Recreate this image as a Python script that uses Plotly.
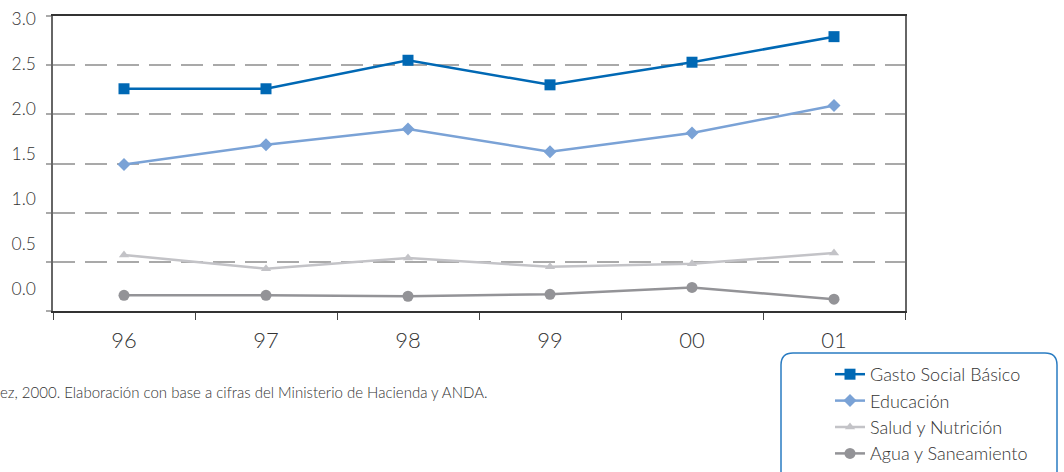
import plotly.graph_objects as go

# Years (two-digit labels) and spending series, % of GDP
years = ["96", "97", "98", "99", "00", "01"]
gasto_social = [2.26, 2.26, 2.55, 2.30, 2.53, 2.79]
educacion = [1.49, 1.69, 1.85, 1.62, 1.81, 2.09]
salud_nutricion = [0.57, 0.43, 0.54, 0.45, 0.48, 0.59]
agua_saneamiento = [0.16, 0.16, 0.15, 0.17, 0.24, 0.12]

y_ticks = [0.0, 0.5, 1.0, 1.5, 2.0, 2.5, 3.0]
y_tick_text = ["0.0", "0.5", "1.0", "1.5", "2.0", "2.5", "3.0"]

series = [
    ("Gasto Social Básico", gasto_social, "#0068b4", "square", 11),
    ("Educación", educacion, "#7aa2d6", "diamond", 10),
    ("Salud y Nutrición", salud_nutricion, "#c3c3c7", "triangle-up", 9),
    ("Agua y Saneamiento", agua_saneamiento, "#939397", "circle", 11),
]

FONT = "Lato"
TEXT_COLOR = "#333333"
W, H = 1064, 472

fig = go.Figure()
for name, values, color, symbol, size in series:
    fig.add_trace(go.Scatter(
        x=years, y=values, name=name, mode="lines+markers",
        line=dict(color=color, width=2.5),
        marker=dict(symbol=symbol, size=size, color=color),
    ))

fig.update_layout(
    width=W, height=H,
    margin=dict(l=53, r=159, t=16, b=161, autoexpand=False),
    paper_bgcolor="white", plot_bgcolor="white",
    font=dict(family=FONT, color=TEXT_COLOR, weight=300),
    showlegend=True,
    legend=dict(
        xref="container", yref="container",
        x=830 / W, xanchor="left",
        y=1 - 356 / H, yanchor="top",
        bgcolor="rgba(0,0,0,0)", borderwidth=0,
        font=dict(size=18, family=FONT, color=TEXT_COLOR, weight=300),
        tracegroupgap=0,
    ),
    xaxis=dict(
        type="category", range=[-0.5, 5.5], automargin=False,
        tickson="boundaries", ticks="outside", ticklen=7, tickcolor="#444",
        tickwidth=1.2,
        showgrid=False, showline=True, linecolor="#333", linewidth=1.5,
        mirror=True, tickfont=dict(size=22, color=TEXT_COLOR),
        ticklabelstandoff=9,
    ),
    yaxis=dict(
        range=[0, 3], tickvals=y_ticks, showticklabels=False, automargin=False,
        ticks="outside", ticklen=5, tickcolor="#aaaaaa", tickwidth=1.5,
        showgrid=True, gridcolor="#a9a9a9", gridwidth=1.5, griddash="22px,10px",
        showline=True, linecolor="#666", linewidth=1.5, mirror=True,
        zeroline=False,
    ),
    # Tick-label scale drawn slightly compressed against the gridlines
    yaxis2=dict(
        overlaying="y", side="left", range=[-0.244, 3.033], automargin=False,
        tickvals=y_ticks, ticktext=y_tick_text, showgrid=False,
        showline=False, zeroline=False, ticks="",
        tickfont=dict(size=17.5, color=TEXT_COLOR), ticklabelstandoff=16,
    ),
)

# Invisible trace so the label scale is rendered
fig.add_trace(go.Scatter(x=years, y=[None] * len(years), yaxis="y2",
                         showlegend=False, hoverinfo="skip"))

# Rounded legend frame
x0, x1 = (781 - 53) / 852, (1057 - 53) / 852
y0, y1 = (311 - 353) / 295, (311 - 490) / 295
rx, ry = 12 / 852, 12 / 295
path = (
    f"M{x0 + rx},{y0} L{x1 - rx},{y0} Q{x1},{y0} {x1},{y0 - ry} "
    f"L{x1},{y1} L{x0},{y1} L{x0},{y0 - ry} Q{x0},{y0} {x0 + rx},{y0} Z"
)
fig.add_shape(type="path", path=path, xref="paper", yref="paper",
              line=dict(color="#2a7cc2", width=1.5), fillcolor="rgba(0,0,0,0)")

fig.add_annotation(
    text="ez, 2000. Elaboración con base a cifras del Ministerio de Hacienda y ANDA.",
    xref="paper", yref="paper", x=-55 / 852, y=(311 - 392) / 295,
    xanchor="left", yanchor="middle", showarrow=False,
    font=dict(size=15, color=TEXT_COLOR, family=FONT, weight=300),
)

fig.write_html("out.html")
